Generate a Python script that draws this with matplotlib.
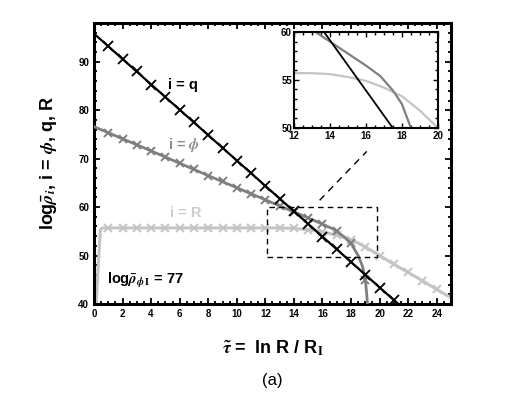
import matplotlib
matplotlib.use("Agg")
import matplotlib.pyplot as plt
from matplotlib.patches import Rectangle
from matplotlib.ticker import MultipleLocator

plt.rcParams['font.family'] = ['Liberation Sans', 'DejaVu Sans']
plt.rcParams['font.weight'] = 'bold'
plt.rcParams['axes.labelweight'] = 'bold'
plt.rcParams['mathtext.fontset'] = 'stix'

# curve i = q (straight line)
q_x = [0.0, 21.5]
q_y = [95.8, 39.5]
q_mx = [1, 2, 3, 4, 5, 6, 7, 8, 9, 10, 11, 12, 13, 14, 15, 16, 17, 18, 19, 20, 21]
q_my = [93.2, 90.6, 88.0, 85.3, 82.7, 80.1, 77.5, 74.8, 72.2, 69.6, 67.0, 64.4,
        61.7, 59.1, 56.5, 53.9, 51.3, 48.6, 46.0, 43.4, 40.8]

# curve i = phi
phi_x = [0, 4, 8, 12, 16, 16.8, 17.5, 18.0, 18.5, 18.8, 19.0, 19.1, 19.15]
phi_y = [76.6, 71.6, 66.5, 61.5, 56.5, 55.4, 53.9, 52.5, 50.0, 47.8, 45.0, 42.0, 40.0]
phi_mx = [1, 2, 3, 4, 5, 6, 7, 8, 9, 10, 11, 12, 13, 14, 15, 16, 17, 18, 19]
phi_my = [75.3, 74.1, 72.8, 71.6, 70.3, 69.0, 67.8, 66.5, 65.3, 64.0, 62.8, 61.5,
          60.2, 59.0, 57.8, 56.5, 55.1, 52.5, 45.0]

# curve i = R
R_x = [0.15, 0.3, 0.45, 0.6, 2, 6, 10, 12, 13, 14, 15, 16, 17, 18, 19, 20, 21, 22, 23, 24, 25]
R_y = [40.0, 48.0, 55.3, 55.7, 55.7, 55.7, 55.7, 55.7, 55.7, 55.6, 55.3, 54.9, 54.2,
       53.3, 51.8, 50.0, 48.2, 46.5, 44.8, 43.0, 41.3]
R_mx = [1, 2, 3, 4, 5, 6, 7, 8, 9, 10, 11, 12, 13, 14, 15, 16, 17, 18, 19, 20, 21, 22, 23, 24]
R_my = [55.7, 55.7, 55.7, 55.7, 55.7, 55.7, 55.7, 55.7, 55.7, 55.7, 55.7, 55.7,
        55.7, 55.6, 55.3, 54.9, 54.2, 53.3, 51.8, 50.0, 48.2, 46.5, 44.8, 43.0]

c_q, c_phi, c_R = "black", "#7f7f7f", "#c4c4c4"

fig = plt.figure(figsize=(5.26, 3.93), dpi=100)
ax = fig.add_axes([0.1787, 0.2265, 0.6787, 0.715])

ax.plot(R_x, R_y, color=c_R, lw=2.2, zorder=2)
ax.plot(R_mx, R_my, ls="none", marker="x", ms=6, mew=1.4, color=c_R, zorder=2)
ax.plot(phi_x, phi_y, color=c_phi, lw=2.0, zorder=3)
ax.plot(phi_mx, phi_my, ls="none", marker="x", ms=6, mew=1.4, color=c_phi, zorder=3)
ax.plot(q_x, q_y, color=c_q, lw=1.6, zorder=4)
ax.plot(q_mx, q_my, ls="none", marker="x", ms=6.5, mew=1.3, color=c_q, zorder=4)

# zoom box and guide line
ax.add_patch(Rectangle((12.1, 49.6), 7.7, 10.4, fill=False, ls=(0, (4, 3)), lw=1.0,
                       ec="black", zorder=5))
ax.plot([15.8, 19.1], [61.4, 71.5], ls=(0, (5, 4)), lw=1.0, color="black")

ax.set_xlim(0, 25)
ax.set_ylim(40, 98)
ax.xaxis.set_major_locator(MultipleLocator(2))
ax.xaxis.set_minor_locator(MultipleLocator(0.5))
ax.yaxis.set_major_locator(MultipleLocator(10))
ax.yaxis.set_minor_locator(MultipleLocator(2))
ax.tick_params(which="both", direction="in", top=True, right=True, labelsize=7, width=1.3)
ax.tick_params(which="major", length=4.5)
ax.tick_params(which="minor", length=2.5)
for s in ax.spines.values():
    s.set_linewidth(2.2)

ax.text(5.2, 85.2, "i = q", fontsize=10.5, color=c_q, va="center")
ax.text(5.2, 72.8, r"i = $\phi$", fontsize=10.5, color="#8c8c8c", va="center")
ax.text(5.3, 58.8, "i = R", fontsize=10.5, color="#cccccc", va="center")
ax.text(0.9, 44.8, r"log$\bar{\rho}_{\phi\,\mathrm{I}}$ = 77", fontsize=10.5, color="black", va="center")

ax.set_ylabel(r"log$\bar{\rho}_{i}$, i = $\phi$, q, R", fontsize=13, labelpad=14)
ax.set_xlabel(r"$\tilde{\tau}$ =  ln R / R$_{\mathrm{I}}$", fontsize=13, labelpad=14)
fig.text(0.517, 0.02, "(a)", fontsize=12, fontweight="normal", ha="center")

# inset
ins = fig.add_axes([0.559, 0.675, 0.2732, 0.2435])
ins.plot(R_x, R_y, color=c_R, lw=1.6)
ins.plot(phi_x, phi_y, color=c_phi, lw=1.6)
ins.plot(q_x, q_y, color=c_q, lw=1.3)
ins.set_xlim(12, 20)
ins.set_ylim(50, 60)
ins.xaxis.set_major_locator(MultipleLocator(2))
ins.xaxis.set_minor_locator(MultipleLocator(0.5))
ins.yaxis.set_major_locator(MultipleLocator(5))
ins.yaxis.set_minor_locator(MultipleLocator(1))
ins.tick_params(which="both", direction="in", top=True, right=True, labelsize=7, width=1.0, pad=1.5)
ins.tick_params(axis="x", pad=2.5)
ins.tick_params(which="major", length=3.5)
ins.tick_params(which="minor", length=2)
for s in ins.spines.values():
    s.set_linewidth(1.5)

fig.savefig("out.png", dpi=100)
